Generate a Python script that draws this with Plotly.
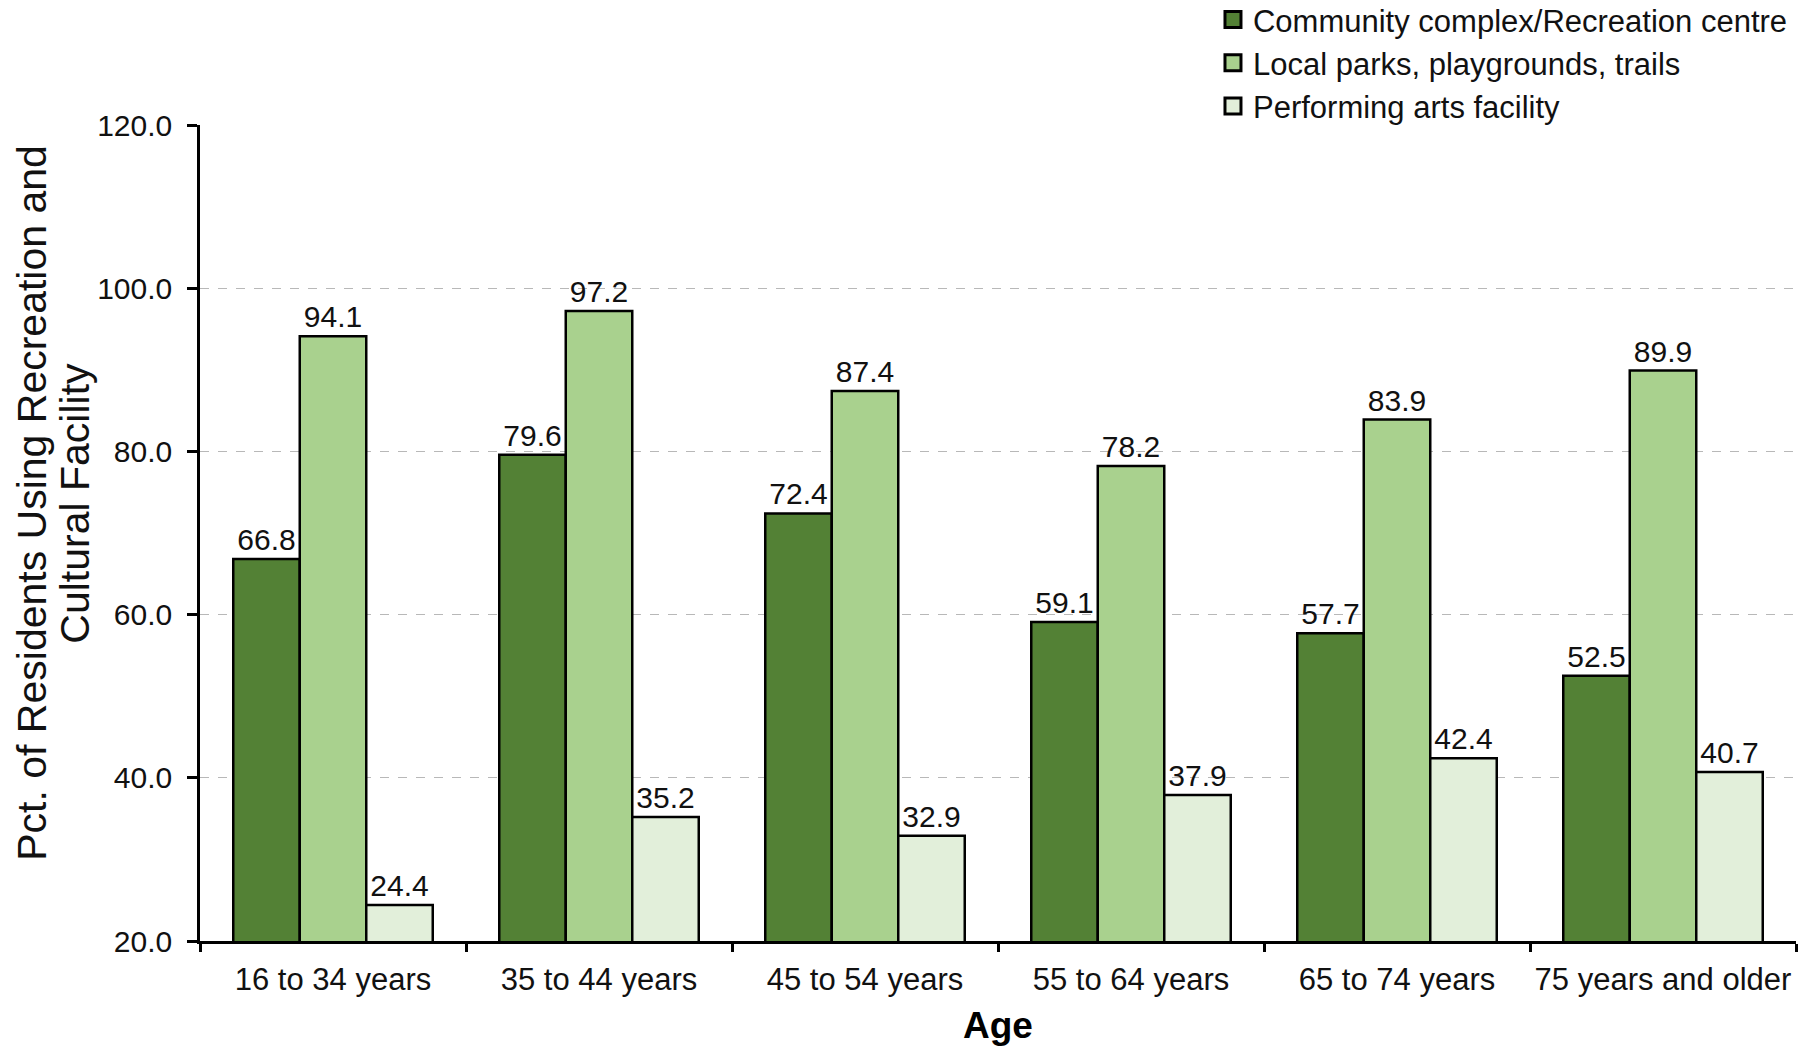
import plotly.graph_objects as go

categories = ["16 to 34 years", "35 to 44 years", "45 to 54 years",
              "55 to 64 years", "65 to 74 years", "75 years and older"]
series_names = ["Community complex/Recreation centre",
                "Local parks, playgrounds, trails",
                "Performing arts facility"]
community = [66.8, 79.6, 72.4, 59.1, 57.7, 52.5]
parks = [94.1, 97.2, 87.4, 78.2, 83.9, 89.9]
arts = [24.4, 35.2, 32.9, 37.9, 42.4, 40.7]
colors = ["#538135", "#A9D18E", "#E2EFDA"]
y_title_lines = ["Pct. of Residents Using Recreation and", "Cultural Facility"]

FONT = "Liberation Sans, Arial, sans-serif"
TXT = "#111111"
fig = go.Figure()
for name, vals, col in zip(series_names, [community, parks, arts], colors):
    fig.add_trace(go.Bar(
        x=categories, y=vals, name=name, showlegend=False,
        marker=dict(color=col, line=dict(color="black", width=2.5)),
        text=[f"{v:.1f}" for v in vals], textposition="outside",
        textfont=dict(family=FONT, size=30, color=TXT),
        cliponaxis=False,
    ))
# legend entries with square swatches
for name, col in zip(series_names, colors):
    fig.add_trace(go.Scatter(
        x=[None], y=[None], mode="markers", name=name,
        marker=dict(symbol="square", size=20, color=col,
                    line=dict(color="black", width=3)),
    ))

title_x = [-0.1053, -0.0784]
fig.update_layout(
    barmode="group", bargap=0.25, bargroupgap=0,
    width=1814, height=1049,
    margin=dict(l=200, r=18, t=125, b=108, autoexpand=False),
    plot_bgcolor="white", paper_bgcolor="white",
    font=dict(family=FONT, color=TXT),
    legend=dict(x=0.6347, xanchor="left", y=1.162, yanchor="top",
                font=dict(size=31, family=FONT, color=TXT),
                bgcolor="rgba(0,0,0,0)", tracegroupgap=0, itemsizing="trace"),
    showlegend=True,
    annotations=[dict(
        text=t, textangle=-90, xref="paper", yref="paper", x=xx, y=0.537,
        xanchor="center", yanchor="middle", showarrow=False,
        font=dict(size=41, family=FONT, color=TXT))
        for t, xx in zip(y_title_lines, title_x)],
)
fig.update_yaxes(
    range=[20, 120], dtick=20, tickformat=".1f",
    showline=True, linecolor="black", linewidth=2.5,
    ticks="outside", ticklen=10, tickwidth=2.5, tickcolor="black",
    ticklabelstandoff=9,
    showgrid=True, gridcolor="#b8b8b8", griddash="dash", gridwidth=1.2,
    zeroline=False,
    tickfont=dict(size=30, family=FONT, color=TXT),
)
fig.update_xaxes(
    showline=True, linecolor="black", linewidth=2.5,
    ticks="outside", tickson="boundaries", ticklen=8, tickwidth=2.5, tickcolor="black",
    tickangle=0, ticklabelstandoff=9,
    tickfont=dict(size=31, family=FONT, color=TXT),
    title=dict(text="<b>Age</b>", font=dict(size=37, family=FONT, color="black"), standoff=17),
)
fig.write_html("out.html", post_script="document.body.style.margin='0';",
               config={"displayModeBar": False})
